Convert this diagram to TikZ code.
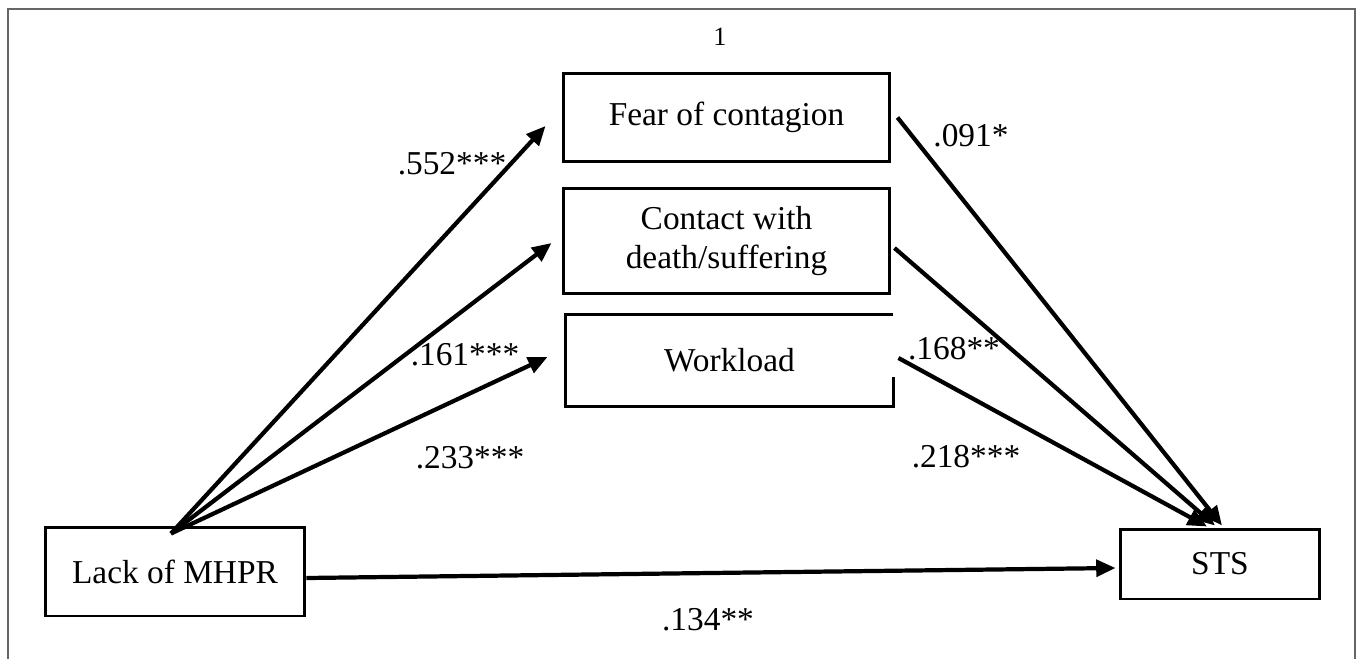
\documentclass[tikz,border=0pt]{standalone}
\usepackage{fontspec}
\setmainfont{Liberation Serif}
\usepackage{tikz}
\usetikzlibrary{arrows.meta,positioning,calc}
\tikzset{
  medbox/.style={draw, line width=1.7pt, align=center, inner sep=0pt, font=\fontsize{19}{22}\selectfont},
  medarrow/.style={-{Triangle[length=11pt,width=9.5pt]}, line width=2.4pt},
  medlabel/.style={font=\fontsize{19}{22}\selectfont, inner sep=0pt},
  medframe/.style={draw=black!60, line width=1.2pt}
}

\begin{document}
\begin{tikzpicture}[x=0.02cm, y=-0.02cm]
  \useasboundingbox (0,0) rectangle (1360,659);
  \draw[medframe] (8,659) -- (8,9) -- (1355,9) -- (1355,659);

  \node[font=\fontsize{15}{18}\selectfont] (pagenum) at (720,37) {1};

  \node[medbox, minimum width=6.54cm, minimum height=1.78cm] (fear) at (726.5,117.5) {Fear of contagion};
  \node[medbox, minimum width=6.54cm, minimum height=2.12cm] (contact) at (726.5,241) {Contact with\\death/suffering};
  \node[medbox, draw=none, minimum width=6.5cm, minimum height=1.78cm] (work) at (729.5,360.5) {Workload};
  \draw[line width=1.7pt] (work.north east) -- (work.north west) -- (work.south west) -- (work.south east) -- ($(work.south east)+(0,-29)$);
  \node[medbox, minimum width=5.2cm, minimum height=1.78cm] (lack) at (175,571.5) {Lack of MHPR};
  \node[medbox, minimum width=4cm, minimum height=1.4cm] (sts) at (1220,564) {STS};

  % paths a
  \coordinate (src) at ($(lack.north)+(-4,8)$);
  \draw[medarrow] (src) -- ($(fear.west)+(-16,8.5)$);
  \draw[medarrow] (src) -- ($(contact.west)+(-10,2)$);
  \draw[medarrow] (src) -- ($(work.west)+(-18,-3.5)$);

  % paths b
  \draw[medarrow] ($(fear.east)+(6,0)$) -- ($(sts.north)+(2,-2)$);
  \draw[medarrow] ($(contact.east)+(3,7)$) -- ($(sts.north)+(-5,-2)$);
  \draw[medarrow] ($(work.east)+(5,-2.5)$) -- ($(sts.north)+(-13,-1)$);

  % direct path
  \draw[medarrow] ($(lack.east)+(0,6.5)$) -- ($(sts.west)+(-3,4)$);

  \node[medlabel] (afear) at (452,164) {.552***};
  \node[medlabel] (acontact) at (465,355) {.161***};
  \node[medlabel] (awork) at (470,458) {.233***};
  \node[medlabel] (bfear) at (971,136) {.091*};
  \node[medlabel] (bcontact) at (954,349) {.168**};
  \node[medlabel] (bwork) at (966,457) {.218***};
  \node[medlabel] (direct) at (708,620) {.134**};
\end{tikzpicture}
\end{document}
